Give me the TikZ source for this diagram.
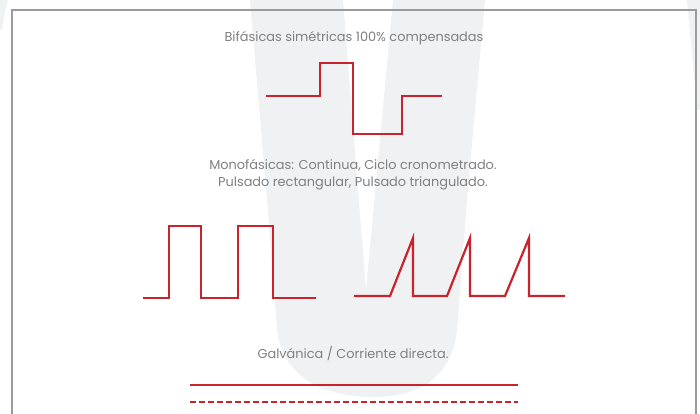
\documentclass[tikz,border=0pt]{standalone}
\usepackage{fontspec}
\setmainfont{Poppins}
\definecolor{wm}{HTML}{F0F1F3}
\definecolor{wave}{HTML}{C9232D}
\definecolor{frame}{HTML}{9B9B9E}
\definecolor{txt}{HTML}{808080}
\begin{document}
\begin{tikzpicture}[x=1pt,y=-1pt,
  wavel/.style={draw=wave,line width=2.2pt,line join=miter},
  label/.style={text=txt,font=\fontsize{12.9}{17}\selectfont,inner sep=0pt,align=center}]
\useasboundingbox[fill=white] (0,0) rectangle (700,413);
% watermark
\fill[wm] (250,0) -- (343,0) -- (366,290) -- (393,0) -- (485,0) -- (467,200) -- (457,330)
  .. controls (452,378) and (418,397) .. (373,397)
  .. controls (325,397) and (283,378) .. (277,330) -- (267,200) -- cycle;
\fill[wm] (687,0) -- (700,0) -- (700,110) -- (697,110) -- cycle;
\fill[wm] (0,0) -- (8,0) .. controls (5,10) and (3,20) .. (2,30) -- (0,30) -- cycle;
% frame
\draw[frame,line width=2pt] (12,420) -- (12,10) -- (696,10) -- (696,420);
% texts
\node[label] (t1) at (354,38.5) {Bifásicas simétricas 100\% compensadas};
\node[label] (t2) at (353,174.5) {Monofásicas: Continua, Ciclo cronometrado.\\Pulsado rectangular, Pulsado triangulado.};
\node[label] (t3) at (353,353.5) {Galvánica / Corriente directa.};
% biphasic
\draw[wavel] (266,96) -- (320,96) -- (320,63) -- (353,63) -- (353,134) -- (402,134) -- (402,96) -- (442,96);
% rectangular pulses
\draw[wavel] (143,298) -- (169,298) -- (169,226) -- (201,226) -- (201,298) -- (238,298) -- (238,226) -- (273,226) -- (273,298) -- (316,298);
% triangular pulses
\draw[wavel] (354,296) -- (390,296) -- (413,238) -- (413,296) -- (447,296) -- (470,238) -- (470,296) -- (505,296) -- (529,238) -- (529,296) -- (565,296);
% galvanic
\draw[wave,line width=2pt] (190,385) -- (518,385);
\draw[wave,line width=2pt,dash pattern=on 6pt off 3pt] (190,402) -- (518,402);
\end{tikzpicture}
\end{document}
